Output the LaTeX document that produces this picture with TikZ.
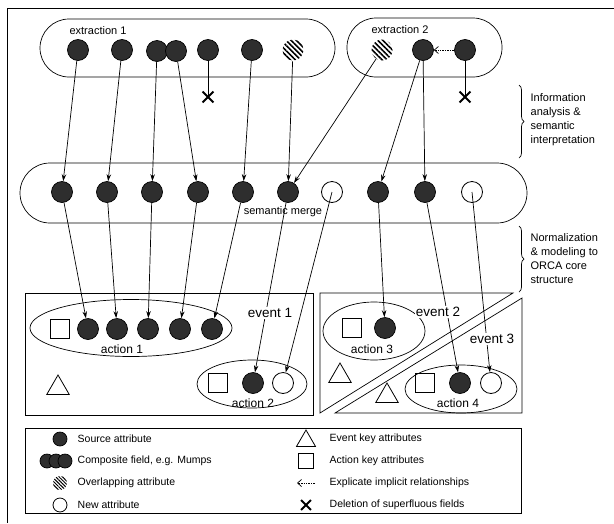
\documentclass[tikz,border=0pt]{standalone}
\usepackage{fontspec}
\setmainfont{Liberation Sans}
\usetikzlibrary{arrows.meta,shapes.geometric,shapes.misc,patterns.meta,decorations.pathreplacing}

\tikzset{
  srcattr/.style={circle,draw,fill=black!82,minimum size=21pt,inner sep=0pt},
  newattr/.style={circle,draw,thick,minimum size=21pt,inner sep=0pt},
  ovlattr/.style={circle,minimum size=21pt,inner sep=0pt,
    pattern={Lines[angle=-45,distance=3.6pt,line width=1.6pt]}},
  actkey/.style={rectangle,draw,thick,minimum size=19pt,inner sep=0pt},
  evtkey/.style={regular polygon,regular polygon sides=3,draw,thick,minimum size=26pt,inner sep=0pt},
  delmark/.style={cross out,draw,line width=1.8pt,minimum size=9pt,inner sep=0pt},
  flow/.style={-{Stealth[length=7pt,width=4.5pt]}},
  grp/.style={draw,rounded corners=29pt},
  actgrp/.style={ellipse,draw,inner sep=0pt},
  lbl/.style={font=\fontsize{11}{13}\selectfont},
  evlbl/.style={font=\fontsize{13.5}{15}\selectfont,fill=white,inner sep=1pt},
  leg/.style={anchor=west,font=\fontsize{10.5}{12}\selectfont}
}

\begin{document}
\begin{tikzpicture}[x=1pt,y=-1pt,line width=0.7pt]
  \useasboundingbox (0,0) rectangle (614,523);
  \draw (614,8) -- (7,8) -- (7,523);

  % extraction groups
  \draw[grp] (40,19) rectangle (335,77);
  \draw[grp] (347,18) rectangle (502,77);
  \node[lbl] (ext1) at (98,31) {extraction 1};
  \node[lbl] (ext2) at (400,30) {extraction 2};

  \node[srcattr] (x1a) at (78,50) {};
  \node[srcattr] (x1b) at (122,50) {};
  \node[srcattr] (x1c) at (157,51) {};
  \node[srcattr] (x1d) at (176,51) {};
  \node[srcattr] (x1e) at (208,50) {};
  \node[srcattr] (x1f) at (252,50) {};
  \node[ovlattr] (x1g) at (293,50) {};
  \node[ovlattr] (x2a) at (382,50) {};
  \node[srcattr] (x2b) at (423,50) {};
  \node[srcattr] (x2c) at (465,50) {};

  % deleted fields
  \node[delmark] (del1) at (208,97) {};
  \node[delmark] (del2) at (465,97) {};
  \draw (x1e) -- (del1.center);
  \draw (x2c) -- (del2.center);
  \draw[densely dotted,-{Straight Barb[length=4pt,width=7pt]}] (x2c) -- (x2b);

  % semantic merge
  \draw[rounded corners=30pt] (20,163) rectangle (527,223);
  \node[lbl] (merge) at (283,212) {semantic merge};
  \foreach \name/\xpos in {m1/62,m2/107,m3/152,m4/198,m5/243,m6/288,m8/378,m9/425}
    \node[srcattr] (\name) at (\xpos,192) {};
  \node[newattr] (m7) at (332,192) {};
  \node[newattr] (m10) at (472,192) {};

  % braces on the right
  \draw[decorate,decoration={brace,amplitude=5pt}] (519,85) -- (519,158);
  \node[anchor=west,align=left,lbl,font=\fontsize{11}{14}\selectfont] (step1) at (527,120)
    {Information\\analysis \&\\semantic\\interpretation};
  \draw[decorate,decoration={brace,amplitude=5pt}] (519,226) -- (519,292);
  \node[anchor=west,align=left,lbl,font=\fontsize{11}{14}\selectfont] (step2) at (527,259)
    {Normalization\\\& modeling to\\ORCA core\\structure};

  % events
  \draw (25,293) rectangle (313,415);
  \draw (320,293) -- (513,293) -- (320,413) -- cycle;
  \draw (522,298) -- (522,413) -- (335,413) -- cycle;

  % action 1
  \node[actgrp,minimum width=202pt,minimum height=57pt] (act1) at (131,328) {};
  \node[lbl,font=\fontsize{12}{14}\selectfont] at (122,349) {action 1};
  \node[actkey] (k1) at (60,329) {};
  \foreach \name/\xpos in {a1a/88,a1b/117,a1c/148,a1e/212,a1d/180}
    \node[srcattr] (\name) at (\xpos,329) {};

  % action 2
  \node[actgrp,minimum width=110pt,minimum height=48pt] (act2) at (252,384) {};
  \node[lbl,font=\fontsize{12}{14}\selectfont] at (253,403) {action 2};
  \node[actkey] (k2) at (218,383) {};
  \node[srcattr] (a2a) at (253,383) {};
  \node[newattr] (a2b) at (283,383) {};

  % action 3
  \node[actgrp,minimum width=102pt,minimum height=58pt] (act3) at (374,331) {};
  \node[lbl,font=\fontsize{12}{14}\selectfont] at (372,349) {action 3};
  \node[actkey] (k3) at (352,328) {};
  \node[srcattr] (a3a) at (385,328) {};

  % action 4
  \node[actgrp,minimum width=112pt,minimum height=48pt] (act4) at (461,389) {};
  \node[lbl,font=\fontsize{12}{14}\selectfont] at (458,403) {action 4};
  \node[actkey] (k4) at (425,383) {};
  \node[srcattr] (a4a) at (460,383) {};
  \node[newattr] (a4b) at (491,383) {};

  % event key attributes
  \node[evtkey] (t1) at (58,388) {};
  \node[evtkey] (t2) at (340,376) {};
  \node[evtkey] (t3) at (387,396) {};

  % extraction -> merge
  \foreach \src/\dst in {x1a/m1,x1b/m2,x1c/m3,x1d/m4,x1f/m5,x1g/m6,x2a/m6,x2b/m8,x2b/m9}
    \draw[flow] (\src) -- (\dst);

  % merge -> actions
  \foreach \src/\dst in {m1/a1a,m2/a1b,m3/a1c,m4/a1d,m5/a1e,m6/a2a,m8/a3a,m9/a4a}
    \draw[flow] (\src) -- (\dst);
  \draw[flow] (m7.center) -- (a2b);
  \draw[flow] (m10.center) -- (a4b);

  \node[evlbl] (ev1) at (270,313) {event 1};
  \node[evlbl] (ev2) at (438,312) {event 2};
  \node[evlbl] (ev3) at (492,339) {event 3};

  % legend
  \draw (25,428) rectangle (521,513);
  \node[srcattr,minimum size=14pt] (l1) at (60,439) {};
  \node[srcattr,minimum size=14pt] (l2a) at (47,461) {};
  \node[srcattr,minimum size=14pt] (l2b) at (56,461) {};
  \node[srcattr,minimum size=14pt] (l2c) at (65,461) {};
  \node[ovlattr,minimum size=14pt,pattern={Lines[angle=-45,distance=2.4pt,line width=1pt]}] (l3) at (60,483) {};
  \node[newattr,minimum size=14pt] (l4) at (60,505) {};
  \node[leg] at (74,439) {Source attribute};
  \node[leg] at (74,461) {Composite field, e.g. Mumps};
  \node[leg] at (74,483) {Overlapping attribute};
  \node[leg] at (74,505) {New attribute};

  \node[evtkey,minimum size=22pt] (l5) at (306,441) {};
  \node[actkey,minimum size=15pt] (l6) at (306,461) {};
  \coordinate (l7a) at (297,483);
  \coordinate (l7b) at (315,483);
  \draw[densely dotted,-{Straight Barb[length=4pt,width=7pt]}] (l7b) -- (l7a);
  \node[delmark,minimum size=8pt] (l8) at (306,505) {};
  \node[leg] at (326,439) {Event key attributes};
  \node[leg] at (326,461) {Action key attributes};
  \node[leg] at (326,483) {Explicate implicit relationships};
  \node[leg] at (326,505) {Deletion of superfluous fields};
\end{tikzpicture}
\end{document}
